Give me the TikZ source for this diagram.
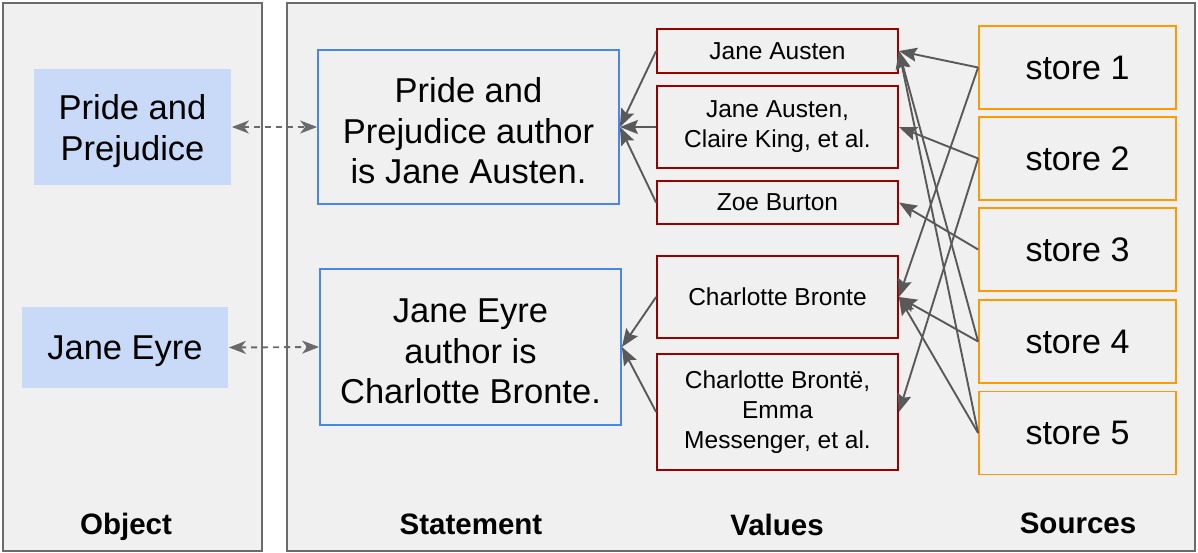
\documentclass[tikz,border=0pt]{standalone}
\usepackage{fontspec}
\setmainfont{Liberation Sans}
\usetikzlibrary{arrows.meta}

\definecolor{panelfill}{HTML}{F0F0F0}
\definecolor{panelline}{HTML}{6B6B6B}
\definecolor{objfill}{HTML}{C9DAF8}
\definecolor{stmtline}{HTML}{4A86E8}
\definecolor{valline}{HTML}{990000}
\definecolor{srcline}{HTML}{FF9900}
\definecolor{linkgray}{HTML}{595959}

% taller first line, so that stacked big text sits a little lower in its box
\newcommand\firstlinestrut{\rule{0pt}{33pt}}

\tikzset{
  panel/.style={draw=panelline, line width=1.6pt, fill=panelfill},
  box/.style={rectangle, inner sep=0pt, align=center, line width=1.8pt},
  objbox/.style={box, fill=objfill, font=\fontsize{34.5}{40.5}\selectfont},
  stmtbox/.style={box, draw=stmtline, font=\fontsize{34.5}{40.5}\selectfont},
  valbox/.style={box, draw=valline, font=\fontsize{24.5}{30}\selectfont},
  srcbox/.style={box, draw=srcline, font=\fontsize{34}{40}\selectfont},
  caption/.style={font=\bfseries\fontsize{29.5}{34}\selectfont, inner sep=0pt, anchor=base},
  link/.style={draw=linkgray, line width=1.9pt, -{Stealth[length=18pt, width=14pt, inset=3pt]}},
  ref/.style={draw=linkgray!90, line width=1.9pt, dash pattern=on 6pt off 5pt,
    {Stealth[length=17pt, width=13pt, inset=5pt]}-{Stealth[length=17pt, width=13pt, inset=5pt]}},
}

\begin{document}
\begin{tikzpicture}[x=1pt, y=-1pt]
  % canvas
  \fill[white] (0,0) rectangle (1198,552);
  \useasboundingbox (0,0) rectangle (1198,552);

  % the two panels
  \draw[panel] (3,3) rectangle (262,551);
  \draw[panel] (287,3) rectangle (1195,551);

  % objects
  \node[objbox, minimum width=197pt, minimum height=116pt] (pp) at (132.5,127) {\firstlinestrut Pride and\\Prejudice};
  \node[objbox, minimum width=206pt, minimum height=81pt, text depth=0pt] (je) at (125,347.5) {Jane Eyre};

  % statements
  \node[stmtbox, minimum width=301pt, minimum height=154pt] (st1) at (468.5,127)
    {\firstlinestrut Pride and\\Prejudice author\\is Jane Austen.};
  \node[stmtbox, minimum width=301pt, minimum height=156pt] (st2) at (470.5,347)
    {\firstlinestrut Jane Eyre\\author is\\Charlotte Bronte.};

  % values
  \node[valbox, minimum width=241pt, minimum height=44pt] (ja) at (777.5,51) {Jane Austen};
  \node[valbox, minimum width=241pt, minimum height=82pt] (jac) at (777.5,127) {Jane Austen,\\Claire King, et al.};
  \node[valbox, minimum width=241pt, minimum height=43pt] (zb) at (777.5,202.5) {Zoe Burton};
  \node[valbox, minimum width=241pt, minimum height=82pt] (cb) at (777.5,297) {Charlotte Bronte};
  \node[valbox, minimum width=241pt, minimum height=116pt] (cbe) at (777.5,412) {Charlotte Brontë,\\Emma\\Messenger, et al.};

  % sources
  \node[srcbox, minimum width=197pt, minimum height=83pt] (s1) at (1077.5,67.5) {store 1};
  \node[srcbox, minimum width=197pt, minimum height=83pt] (s2) at (1077.5,158.5) {store 2};
  \node[srcbox, minimum width=197pt, minimum height=83pt] (s3) at (1077.5,249.5) {store 3};
  \node[srcbox, minimum width=197pt, minimum height=83pt] (s4) at (1077.5,341.5) {store 4};
  \node[srcbox, minimum width=197pt, minimum height=83pt] (s5) at (1077.5,433) {store 5};

  % column captions
  \node[caption] (capobj) at (126,534) {Object};
  \node[caption] (capst) at (471,534) {Statement};
  \node[caption] (capval) at (777,535.5) {Values};
  \node[caption] (capsrc) at (1078,533) {Sources};

  % object <-> statement
  \draw[ref] (pp.east) -- (st1.west);
  \draw[ref] (je.east) -- (st2.west);

  % values -> statements
  \draw[link] (ja.west) -- (st1.east);
  \draw[link] (jac.west) -- (st1.east);
  \draw[link] (zb.west) -- (st1.east);
  \draw[link] (cb.west) -- (st2.east);
  \draw[link] (cbe.west) -- (st2.east);

  % sources -> values
  \draw[link] (s1.west) -- (ja.east);
  \draw[link] (s1.west) -- (cb.east);
  \draw[link] (s2.west) -- (jac.east);
  \draw[link] (s2.west) -- (cbe.east);
  \draw[link] (s3.west) -- (zb.east);
  \draw[link] (s4.west) -- (ja.east);
  \draw[link] (s4.west) -- (cb.east);
  \draw[link] (s5.west) -- (ja.east);
  \draw[link] (s5.west) -- (cb.east);
\end{tikzpicture}
\end{document}
